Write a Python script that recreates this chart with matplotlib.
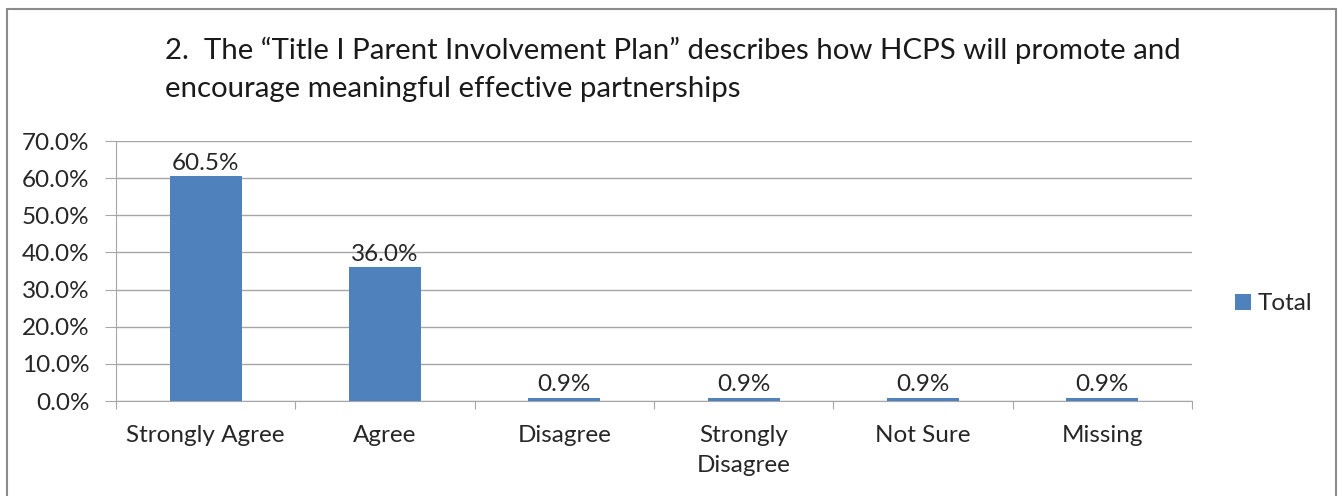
import matplotlib.pyplot as plt
from matplotlib.patches import Rectangle
from matplotlib.ticker import MultipleLocator, FuncFormatter

categories = ["Strongly Agree", "Agree", "Disagree", "Strongly\nDisagree", "Not Sure", "Missing"]
values = [60.5, 36.0, 0.9, 0.9, 0.9, 0.9]
series_name = "Total"
title = ("2.  The \u201cTitle I Parent Involvement Plan\u201d describes how HCPS will promote and\n"
         "encourage meaningful effective partnerships")

plt.rcParams['font.family'] = ['Lato', 'DejaVu Sans']
bar_color = "#4F81BD"
grid_color = "#A6A6A6"
text_color = "#262626"
fs = 17.5

fig = plt.figure(figsize=(13.44, 4.96), dpi=100)
W, H = 1344, 496

# outer chart frame
fig.patches.append(Rectangle((7 / W, -0.01), (1336 - 7) / W, (H - 9) / H + 0.01,
                             transform=fig.transFigure, fill=False,
                             edgecolor="#8C8C8C", linewidth=1.5))

ax = fig.add_axes([116 / W, (H - 401) / H, (1192 - 116) / W, (401 - 141) / H])
x = range(len(categories))
bars = ax.bar(x, values, width=0.4, color=bar_color, label=series_name, zorder=3)

ax.set_xlim(-0.5, len(categories) - 0.5)
ax.set_ylim(0, 70)
ax.yaxis.set_major_locator(MultipleLocator(10))
ax.yaxis.set_major_formatter(FuncFormatter(lambda v, p: f"{v:.1f}%"))
ax.grid(axis="y", color=grid_color, linewidth=1.0, zorder=0)

for s in ["top", "right"]:
    ax.spines[s].set_visible(False)
ax.spines["left"].set_color(grid_color)
ax.spines["bottom"].set_color(grid_color)

ax.set_xticks([i + 0.5 for i in range(-1, len(categories))], minor=False)
ax.set_xticklabels([])
ax.tick_params(axis="x", which="major", length=6, color=grid_color, direction="out")
ax.set_xticks(list(x), minor=True)
ax.set_xticklabels(categories, minor=True, linespacing=1.55)
ax.tick_params(axis="x", which="minor", length=0, pad=17, labelsize=fs, labelcolor=text_color)
ax.tick_params(axis="y", length=8, color=grid_color, pad=11, labelsize=fs, labelcolor=text_color)

for rect, v in zip(bars, values):
    ax.annotate(f"{v:.1f}%", (rect.get_x() + rect.get_width() / 2, v),
                xytext=(0, 2), textcoords="offset points",
                ha="center", va="bottom", fontsize=fs, color=text_color)

fig.text(165 / W, 1 - 37 / H, title, ha="left", va="top", fontsize=21.2,
         color="#1a1a1a", linespacing=1.55)

fig.legend(handles=[bars], labels=[series_name], loc="center left",
           bbox_to_anchor=(1213 / W, 1 - 304 / H), frameon=False,
           fontsize=fs, handlelength=0.65, handleheight=0.65, handletextpad=0.3,
           labelcolor=text_color)

fig.savefig("out.png", dpi=100)
